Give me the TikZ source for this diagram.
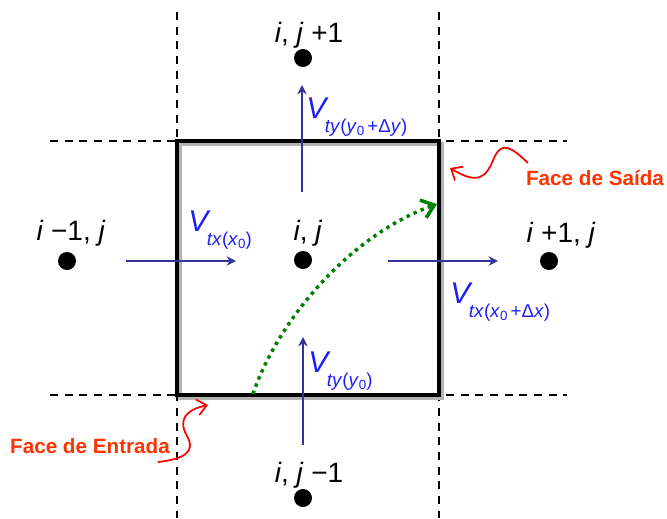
\documentclass[tikz,border=0pt]{standalone}
\usepackage{fontspec}
\setmainfont{Liberation Sans}
\usetikzlibrary{arrows.meta}
\definecolor{vblue}{RGB}{51,51,153}
\definecolor{lblue}{RGB}{30,30,245}
\definecolor{dgreen}{RGB}{0,128,0}
\definecolor{lred}{RGB}{255,51,0}
\tikzset{
  dot/.style={circle,fill=black,inner sep=0pt,minimum size=13.5pt},
  idx/.style={font=\fontsize{21}{21}\selectfont,inner sep=0pt,anchor=base},
  guide/.style={dash pattern=on 6pt off 5pt,line width=1.5pt},
  flux/.style={vblue,line width=2pt,-{Stealth[length=7pt,width=7pt]}},
  vlab/.style={lblue,inner sep=0pt,anchor=base west},
  rlab/.style={lred,font=\fontsize{15.5}{15.5}\selectfont\bfseries,inner sep=0pt},
  squig/.style={red,line width=1.3pt,-{Straight Barb[length=7pt,width=12pt,line width=1.3pt]}}
}
\newcommand{\Vlab}[1]{{\fontsize{22.5}{22.5}\selectfont\itshape V}\kern-1pt\raisebox{-10.5pt}{\fontsize{14}{14}\selectfont #1}}
\newcommand{\sub}[1]{\raisebox{-2.5pt}{\fontsize{10}{10}\selectfont #1}}
\begin{document}
\begin{tikzpicture}[x=0.75pt,y=-0.75pt]
\useasboundingbox (0,0) rectangle (667,518);
% guide lines
\draw[guide] (177,12) -- (177,518);
\draw[guide] (439,12) -- (439,518);
\draw[guide] (50,141) -- (567,141);
\draw[guide] (50,395) -- (567,395);
% cell with shadow
\draw[gray!60,line width=2.4pt] (180,144) rectangle (442,398);
\draw[black,line width=2.4pt] (177,141) rectangle (439,395);
% dots
\node[dot] (top) at (303,58) {};
\node[dot] (left) at (67,261) {};
\node[dot] (mid) at (303,260) {};
\node[dot] (right) at (549,261) {};
\node[dot] (bot) at (303,498) {};
\node[idx] (ltop) at (309,42) {\textit{i}, \textit{j} +1};
\node[idx] (lleft) at (71,240) {\textit{i} −1, \textit{j}};
\node[idx] (lmid) at (308,240) {\textit{i}, \textit{j}};
\node[idx] (lright) at (561,242) {\textit{i} +1, \textit{j}};
\node[idx] (lbot) at (309,482) {\textit{i}, \textit{j} −1};
% flux arrows
\coordinate (a1s) at (302,192); \coordinate (a1e) at (302,85);
\coordinate (a2s) at (126,261); \coordinate (a2e) at (236,261);
\coordinate (a3s) at (388,261); \coordinate (a3e) at (498,261);
\coordinate (a4s) at (303,445); \coordinate (a4e) at (303,337);
\draw[flux] (a1s) -- (a1e);
\draw[flux] (a2s) -- (a2e);
\draw[flux] (a3s) -- (a3e);
\draw[flux] (a4s) -- (a4e);
\node[vlab] (v1) at (306,118) {\Vlab{\textit{ty}(\textit{y}\sub{0}\,+Δ\textit{y})}};
\node[vlab] (v2) at (188,231) {\Vlab{\textit{tx}(\textit{x}\sub{0})}};
\node[vlab] (v3) at (450,303) {\Vlab{\textit{tx}(\textit{x}\sub{0}\,+Δ\textit{x})}};
\node[vlab] (v4) at (308,372) {\Vlab{\textit{ty}(\textit{y}\sub{0})}};
% green trajectory
\coordinate (gs) at (253,394);
\coordinate (ge) at (437,204);
\draw[dgreen,line width=2.6pt,dash pattern=on 2.6pt off 3.2pt,-{Straight Barb[length=9pt,width=14pt,line width=2.6pt]}]
  (gs) .. controls (278,320) and (350,235) .. (ge);
% red labels
\node[rlab] (fs) at (595,178) {Face de Saída};
\node[rlab] (fe) at (90,446) {Face de Entrada};
\coordinate (s1) at (528,163);
\coordinate (s1e) at (450,168);
\draw[squig] (s1) .. controls (512,148) and (502,140) .. (494,158) .. controls (486,178) and (478,185) .. (s1e);
\coordinate (s2) at (158,462);
\coordinate (s2e) at (208,405);
\draw[squig] (s2) .. controls (184,459) and (196,452) .. (187,436) .. controls (178,420) and (185,410) .. (s2e);
\end{tikzpicture}
\end{document}
